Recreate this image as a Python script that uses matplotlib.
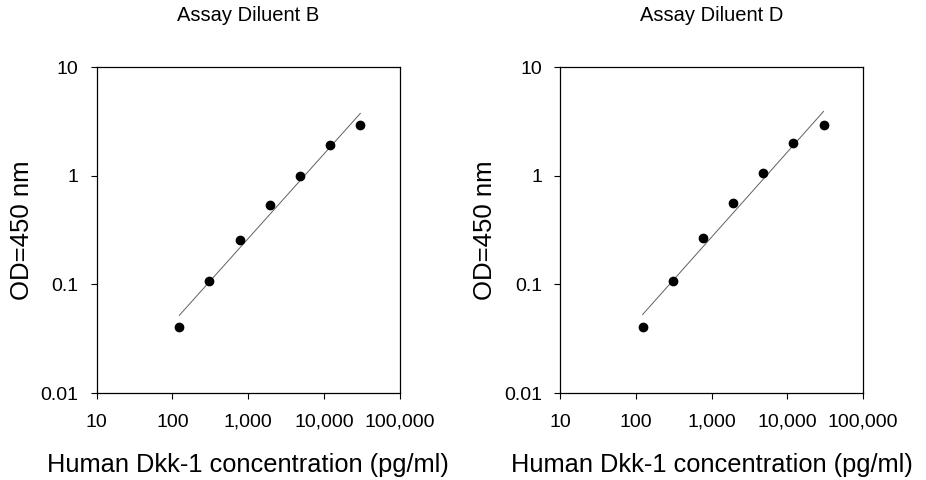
import numpy as np
import matplotlib
matplotlib.use('Agg')
import matplotlib.pyplot as plt

plt.rcParams['font.family'] = ['Liberation Sans', 'DejaVu Sans']

# standard concentrations (pg/ml) and OD readings
conc = [123, 307, 768, 1920, 4800, 12000, 30000]
od_b = [0.0403, 0.1066, 0.257, 0.535, 0.988, 1.92, 2.92]
od_d = [0.0403, 0.1066, 0.267, 0.565, 1.06, 2.01, 2.92]

titles = ['Assay Diluent B', 'Assay Diluent D']
x_ticks = [10, 100, 1000, 10000, 100000]
x_labels = ['10', '100', '1,000', '10,000', '100,000']
y_ticks = [0.01, 0.1, 1, 10]
y_labels = ['0.01', '0.1', '1', '10']

fig = plt.figure(figsize=(9.26, 4.8), dpi=100)
lefts = [0.1044, 0.6047]

for left, od, title in zip(lefts, [od_b, od_d], titles):
    ax = fig.add_axes([left, 0.181, 0.3275, 0.679])
    ax.set_xscale('log')
    ax.set_yscale('log')
    ax.set_xlim(10, 100000)
    ax.set_ylim(0.01, 10)

    # log-log linear fit
    lx = np.log10(conc)
    ly = np.log10(od)
    k, b = np.polyfit(lx, ly, 1)
    fx = np.array([lx[0], lx[-1]])
    ax.plot(10 ** fx, 10 ** (k * fx + b), color='#606060', lw=0.7, zorder=2)

    ax.plot(conc, od, 'o', color='black', ms=6, zorder=3, clip_on=False)

    ax.set_xticks(x_ticks)
    ax.set_xticklabels(x_labels)
    ax.set_yticks(y_ticks)
    ax.set_yticklabels(y_labels)
    ax.minorticks_off()
    ax.tick_params(direction='out', length=4, width=0.8, labelsize=14, pad=11)
    ax.tick_params(axis='y', pad=9)

    for s in ax.spines.values():
        s.set_linewidth(0.9)

    ax.set_xlabel('Human Dkk-1 concentration (pg/ml)', fontsize=18.3, labelpad=16)
    ax.set_ylabel('OD=450 nm', fontsize=18.5, labelpad=5)
    ax.set_title(title, fontsize=14.5, pad=33)

fig.savefig('out.png', dpi=100)
